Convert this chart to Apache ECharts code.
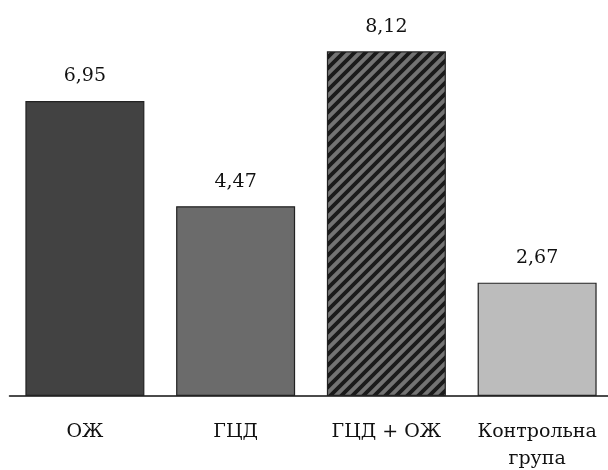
<!DOCTYPE html>
<html>
<head>
<meta charset="utf-8">
<script src="https://cdn.jsdelivr.net/npm/echarts@6/dist/echarts.min.js"></script>
<style>html,body{margin:0;padding:0;background:#fff}#c{width:608px;height:470px}</style>
</head>
<body>
<div id="c"></div>
<script>
const categories = ['ОЖ', 'ГЦД', 'ГЦД + ОЖ', 'Контрольна\nгрупа'];
const values = [6.95, 4.47, 8.12, 2.67];
const valueLabels = ['6,95', '4,47', '8,12', '2,67'];

// hatch pattern for the third bar
const pc = document.createElement('canvas');
pc.width = 11; pc.height = 11;
const g = pc.getContext('2d');
g.fillStyle = '#737373';
g.fillRect(0, 0, 11, 11);
g.strokeStyle = '#1a1a1a';
g.lineWidth = 3.8;
g.beginPath();
for (let k = -2; k <= 2; k++) {
  g.moveTo(k * 11 - 5, 16);
  g.lineTo(k * 11 + 16, -5);
}
g.stroke();

const fills = ['#424242', '#6b6b6b', {image: pc, repeat: 'repeat'}, '#bcbcbc'];

const chart = echarts.init(document.getElementById('c'), null, {renderer: 'canvas'});
chart.setOption({
  animation: false,
  backgroundColor: '#fff',
  grid: {left: 9.5, right: -4.5, top: 14, bottom: 74, containLabel: false, outerBoundsMode: 'none'},
  xAxis: {
    type: 'category',
    data: categories,
    axisLine: {lineStyle: {color: '#111', width: 1.5}},
    axisTick: {show: false},
    axisLabel: {
      interval: 0,
      margin: 23,
      fontFamily: 'DejaVu Serif',
      fontSize: 19,
      lineHeight: 27,
      color: '#111'
    }
  },
  yAxis: {
    type: 'value',
    min: 0,
    max: 9,
    show: false,
    splitLine: {show: false}
  },
  series: [{
    type: 'bar',
    barWidth: 119,
    data: values.map((v, i) => ({
      value: v,
      itemStyle: {color: fills[i], borderColor: '#222', borderWidth: 1.2}
    })),
    label: {
      show: true,
      position: 'top',
      distance: 15,
      fontFamily: 'DejaVu Serif',
      fontSize: 19,
      color: '#111',
      formatter: p => valueLabels[p.dataIndex]
    }
  }]
});
</script>
</body>
</html>
